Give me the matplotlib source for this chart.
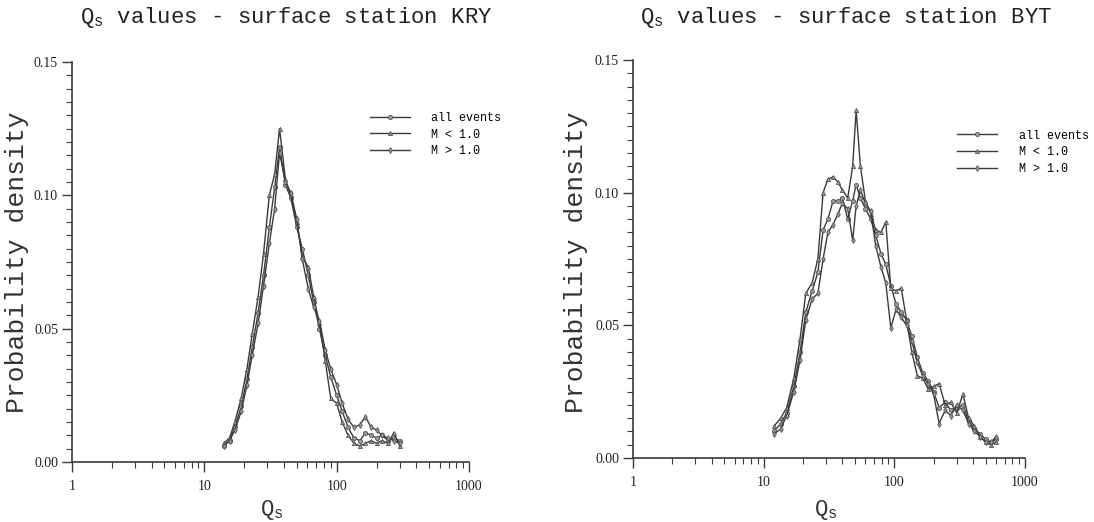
import numpy as np
import matplotlib
matplotlib.use('Agg')
import matplotlib.pyplot as plt
from matplotlib.ticker import FixedLocator, MultipleLocator, NullFormatter

# Qs bins and densities
q_kry = [14, 15.5, 17, 19, 21, 23, 25.5, 28, 31, 34, 37, 41, 45, 50, 55, 61,
         67, 74, 82, 90, 100, 110, 122, 135, 150, 165, 182, 200, 220, 245, 270, 300]
kry_all = [0.006, 0.008, 0.013, 0.021, 0.031, 0.043, 0.056, 0.070, 0.088, 0.103, 0.118,
           0.104, 0.099, 0.088, 0.080, 0.070, 0.060, 0.050, 0.040, 0.032, 0.025, 0.019,
           0.013, 0.009, 0.008, 0.011, 0.010, 0.009, 0.010, 0.008, 0.009, 0.008]
kry_lo = [0.007, 0.009, 0.015, 0.024, 0.035, 0.048, 0.062, 0.078, 0.100, 0.108, 0.125,
          0.106, 0.100, 0.090, 0.077, 0.073, 0.062, 0.052, 0.038, 0.024, 0.022, 0.015,
          0.010, 0.007, 0.006, 0.007, 0.008, 0.007, 0.008, 0.007, 0.011, 0.006]
kry_hi = [0.006, 0.008, 0.012, 0.019, 0.029, 0.040, 0.052, 0.066, 0.082, 0.095, 0.116,
          0.105, 0.101, 0.091, 0.076, 0.065, 0.058, 0.053, 0.042, 0.035, 0.029, 0.022,
          0.016, 0.013, 0.014, 0.017, 0.013, 0.012, 0.010, 0.009, 0.008, 0.007]

q_byt = [12, 13.5, 15, 17, 19, 21, 23.5, 26, 28.5, 31, 34, 37, 40, 44, 48, 51, 55, 60,
         66, 72, 79, 86, 94, 103, 113, 124, 136, 150, 165, 182, 200, 220, 245, 270, 300,
         335, 370, 410, 455, 500, 550, 600]
byt_all = [0.010, 0.013, 0.017, 0.027, 0.040, 0.055, 0.063, 0.070, 0.086, 0.090, 0.097,
           0.097, 0.098, 0.090, 0.097, 0.103, 0.098, 0.094, 0.090, 0.084, 0.077, 0.073,
           0.065, 0.058, 0.055, 0.052, 0.046, 0.038, 0.032, 0.029, 0.025, 0.019, 0.021,
           0.018, 0.019, 0.020, 0.014, 0.011, 0.009, 0.007, 0.006, 0.007]
byt_lo = [0.012, 0.015, 0.019, 0.030, 0.045, 0.062, 0.066, 0.075, 0.100, 0.105, 0.106,
          0.104, 0.101, 0.098, 0.110, 0.131, 0.110, 0.097, 0.092, 0.086, 0.085, 0.089,
          0.064, 0.063, 0.064, 0.052, 0.040, 0.031, 0.030, 0.026, 0.027, 0.028, 0.020,
          0.021, 0.017, 0.024, 0.015, 0.012, 0.008, 0.006, 0.005, 0.006]
byt_hi = [0.009, 0.011, 0.016, 0.025, 0.037, 0.052, 0.060, 0.062, 0.075, 0.085, 0.088,
          0.092, 0.096, 0.094, 0.082, 0.095, 0.101, 0.096, 0.093, 0.080, 0.072, 0.066,
          0.049, 0.056, 0.053, 0.050, 0.044, 0.036, 0.031, 0.028, 0.024, 0.013, 0.018,
          0.016, 0.020, 0.018, 0.013, 0.010, 0.008, 0.006, 0.006, 0.008]

labels = ['all events', 'M < 1.0', 'M > 1.0']
markers = ['o', '^', 'd']
ytick_labels = ['0.00', '0.05', '0.10', '0.15']
xtick_labels = ['1', '10', '100', '1000']

W, H = 1094, 522
ink = '#3a3a3a'
mono = 'Liberation Mono'


def panel(rect, q, series, legend_pos):
    ax = fig.add_axes(rect)
    for ys, lab, mk in zip(series, labels, markers):
        ax.plot(q, ys, color=ink, lw=1.0, marker=mk, markersize=3,
                markerfacecolor='#9a9a9a', markeredgecolor='#555555',
                markeredgewidth=0.6, label=lab)
    ax.set_xscale('log')
    ax.set_xlim(1, 1000)
    ax.set_ylim(0, 0.15)
    ax.spines['top'].set_visible(False)
    ax.spines['right'].set_visible(False)
    for s in ['left', 'bottom']:
        ax.spines[s].set_color(ink)
        ax.spines[s].set_linewidth(1.2)
    ax.set_yticks([0, 0.05, 0.10, 0.15])
    ax.set_yticklabels(ytick_labels, family='Liberation Serif', fontsize=10)
    ax.yaxis.set_minor_locator(MultipleLocator(0.005))
    ax.set_xticks([1, 10, 100, 1000])
    ax.set_xticklabels(xtick_labels, family='Liberation Serif', fontsize=10)
    minors = [m * 10 ** d for d in range(3) for m in range(2, 10)]
    ax.xaxis.set_minor_locator(FixedLocator(minors))
    ax.xaxis.set_minor_formatter(NullFormatter())
    ax.tick_params(which='major', length=7, width=1, color=ink, labelcolor='#222')
    ax.tick_params(which='minor', length=4, width=0.8, color=ink)
    ax.tick_params(axis='y', pad=3)
    ax.tick_params(axis='x', pad=6)
    ax.legend(loc='upper left', bbox_to_anchor=legend_pos, frameon=False,
              prop={'family': mono, 'size': 8.5}, handlelength=3.4,
              handletextpad=1.8, labelspacing=0.4, borderpad=0)
    return ax


fig = plt.figure(figsize=(W / 100, H / 100), dpi=100)
fig.patch.set_facecolor('white')

panel([72 / W, 60 / H, 397 / W, 400 / H], q_kry, [kry_all, kry_lo, kry_hi], (0.735, 0.89))
panel([633 / W, 64 / H, 392 / W, 398 / H], q_byt, [byt_all, byt_lo, byt_hi], (0.812, 0.84))

fig.text(286 / W, 1 - 18 / H, r'Q$_\mathregular{s}$ values - surface station KRY',
         family=mono, fontsize=16, ha='center', va='center', color='#222')
fig.text(846 / W, 1 - 18 / H, r'Q$_\mathregular{s}$ values - surface station BYT',
         family=mono, fontsize=16, ha='center', va='center', color='#222')

fig.text(17 / W, 1 - 262 / H, 'Probability density', family=mono, fontsize=19,
         rotation=90, ha='center', va='center', color='#333')
fig.text(576 / W, 1 - 262 / H, 'Probability density', family=mono, fontsize=19,
         rotation=90, ha='center', va='center', color='#333')

fig.text(272 / W, 1 - 510 / H, r'Q$_\mathregular{s}$', family=mono, fontsize=16,
         ha='center', va='center', color='#333')
fig.text(826 / W, 1 - 510 / H, r'Q$_\mathregular{s}$', family=mono, fontsize=16,
         ha='center', va='center', color='#333')

fig.savefig('out.png', dpi=100)
